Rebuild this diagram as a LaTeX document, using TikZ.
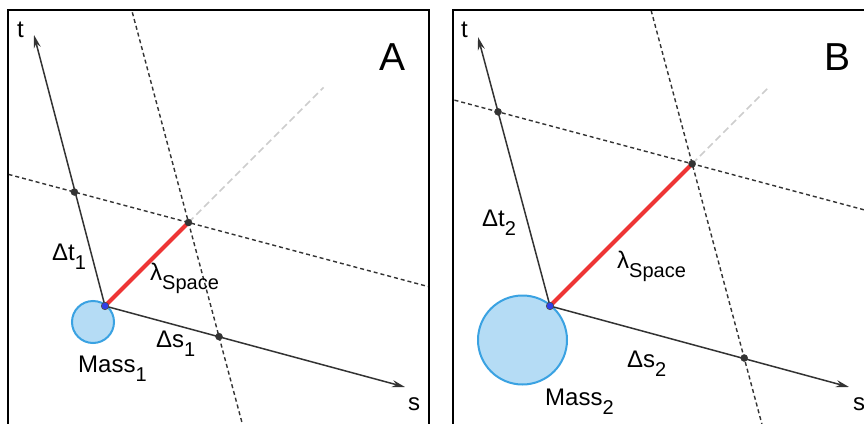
\documentclass[tikz,border=0pt]{standalone}
\usepackage{fontspec}
\setmainfont{Liberation Sans}
\usetikzlibrary{arrows.meta,calc}
\newcommand{\lsub}[1]{\raisebox{-9pt}{\fontsize{20}{20}\selectfont #1}}
\definecolor{axisgray}{HTML}{333333}
\definecolor{lightdash}{HTML}{CDCDCD}
\definecolor{redline}{HTML}{EE3535}
\definecolor{massfill}{HTML}{B5DCF5}
\definecolor{massdraw}{HTML}{3AA2E2}
\definecolor{origblue}{HTML}{3040E8}
\tikzset{
  frame/.style={draw=black,line width=2pt},
  axis/.style={draw=axisgray,line width=1.5pt,-{Stealth[length=13pt,width=7pt]}},
  grid/.style={draw=axisgray,line width=1.4pt,dash pattern=on 4pt off 3pt},
  ext/.style={draw=lightdash,line width=1.5pt,dash pattern=on 7pt off 4pt},
  lam/.style={draw=redline,line width=4pt},
  mass/.style={circle,draw=massdraw,fill=massfill,line width=2pt,inner sep=0pt},
  dot/.style={circle,fill=axisgray,draw=black!80,line width=0.4pt,inner sep=0pt,minimum size=7pt},
  odot/.style={circle,fill=origblue,draw=black!70,line width=0.6pt,inner sep=0pt,minimum size=7.5pt},
  lbl/.style={anchor=base west,inner sep=0pt,font=\fontsize{24}{24}\selectfont},
  big/.style={anchor=base west,inner sep=0pt,font=\fontsize{39}{39}\selectfont},
}
\begin{document}
\begin{tikzpicture}[x=1pt,y=-1pt]
\useasboundingbox (0,0) rectangle (864,423);
\fill[white] (0,0) rectangle (864,423);
% ---------------- Panel A ----------------
\coordinate (OA) at (105,306);
\coordinate (tA) at (34,35);
\coordinate (sA) at (405,387);
\coordinate (dtA) at (74.4,192);
\coordinate (dsA) at (219,336.6);
\coordinate (PA) at (188.5,222.5);
\coordinate (gA) at (323.5,87.5);
\begin{scope}
\clip (8,10) rectangle (429,440);
\draw[grid] ($(dtA)!-2!(PA)$) -- ($(PA)!-4!(dtA)$);
\draw[grid] ($(dsA)!-3!(PA)$) -- ($(PA)!-3!(dsA)$);
\end{scope}
\draw[ext] (PA) -- (gA);
\node[mass,minimum size=42pt] (mA) at (93,322) {};
\draw[axis] (OA) -- (tA);
\draw[axis] (OA) -- (sA);
\draw[lam] (OA) -- (PA);
\node[dot] (ndtA) at (dtA) {};
\node[dot] (ndsA) at (dsA) {};
\node[dot] (nPA) at (PA) {};
\node[odot] (nOA) at (OA) {};
\draw[frame] (8,10) rectangle (429,440);
\node[lbl] (ltA) at (17,37) {t};
\node[lbl] (lsA) at (408,410) {s};
\node[big] (lA) at (379,70) {A};
\node[lbl] (ldtA) at (52,260) {Δt\lsub{1}};
\node[lbl] (llA) at (150,280) {λ\lsub{Space}};
\node[lbl] (ldsA) at (156,347) {Δs\lsub{1}};
\node[lbl] (lmA) at (78,372) {Mass\lsub{1}};
% ---------------- Panel B ----------------
\coordinate (OB) at (550,306);
\coordinate (tB) at (478,37);
\coordinate (sB) at (849,387);
\coordinate (dtB) at (498,111.8);
\coordinate (dsB) at (744.2,358);
\coordinate (PB) at (692.2,163.8);
\coordinate (gB) at (768,88);
\begin{scope}
\clip (453,10) rectangle (880,440);
\draw[grid] ($(dtB)!-2!(PB)$) -- ($(PB)!-4!(dtB)$);
\draw[grid] ($(dsB)!-3!(PB)$) -- ($(PB)!-3!(dsB)$);
\end{scope}
\draw[ext] (PB) -- (gB);
\node[mass,minimum size=89pt] (mB) at (522.5,340) {};
\draw[axis] (OB) -- (tB);
\draw[axis] (OB) -- (sB);
\draw[lam] (OB) -- (PB);
\node[dot] (ndtB) at (dtB) {};
\node[dot] (ndsB) at (dsB) {};
\node[dot] (nPB) at (PB) {};
\node[odot] (nOB) at (OB) {};
\draw[frame] (453,10) rectangle (880,440);
\node[lbl] (ltB) at (461,37) {t};
\node[lbl] (lsB) at (853,410) {s};
\node[big] (lB) at (824,70) {B};
\node[lbl] (ldtB) at (482,226) {Δt\lsub{2}};
\node[lbl] (llB) at (617,268) {λ\lsub{Space}};
\node[lbl] (ldsB) at (627,367) {Δs\lsub{2}};
\node[lbl] (lmB) at (545,405) {Mass\lsub{2}};
\end{tikzpicture}
\end{document}
